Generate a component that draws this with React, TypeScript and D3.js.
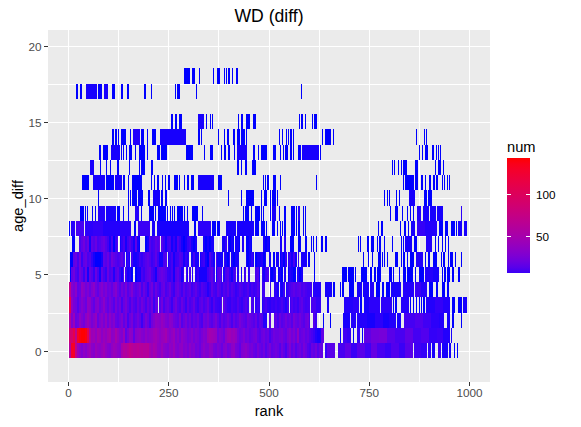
import React from "react";
import * as d3 from "d3";

type Run = [number, number, number?];

// Where tiles exist per age_diff row, as rank runs (optional num for the run).
const row0: Run[] = [[0,627,13],[627,635,3],[640,665,13],[672,690,9],[690,705,15],[705,720,6],[720,740,13],[740,755,7],[755,770,17],[770,790,9],[790,805,6],[805,825,11],[825,840,6],[840,860,13],[862,880,7],[880,894,5],[897,904,4],[907,914,2],[922,929,6],[932,947,2],[949,954,2],[962,964],[969,972]];
const row1: Run[] = [[0,637,15],[677,680],[685,695,7],[695,705,5],[710,712],[720,727,5],[732,735],[737,755,15],[755,775,21],[775,795,23],[795,815,13],[815,840,9],[840,860,15],[860,880,8],[880,900,11],[900,920,5],[920,935,6],[935,952,3],[954,957,2]];
const row2: Run[] = [[0,495,12],[500,505,3],[513,603,8],[610,620,2],[635,637],[652,655],[685,702,2],[705,717,3],[720,745,3],[745,765,2],[765,785,4],[785,800,2],[800,817,3],[820,830,2],[837,865,8],[865,885,11],[885,905,7],[905,925,4],[925,937,3],[944,952,2],[957,962],[979,982]];
const row3: Run[] = [[0,223,12],[226,383,5],[385,450,5],[455,463,3],[465,478,3],[483,500,6],[500,520,8],[520,535,5],[535,550,9],[553,575,7],[575,603,8],[605,618,9],[618,630,5],[645,650,2],[687,710,3],[710,725,4],[727,732],[737,750,2],[750,777,4],[780,807,4],[810,812],[815,820],[830,850,3],[852,855],[860,862],[867,870],[875,877],[879,882],[884,889],[892,915,3],[915,935,5],[935,952,3],[957,964],[972,982],[984,994,2]];
const row4: Run[] = [[1,478,6],[483,490,2],[503,505],[513,525,2],[528,540,2],[543,560,5],[560,575,8],[575,595,9],[595,608,7],[610,630,3],[640,657,2],[660,665],[677,680],[682,687],[700,712],[720,732,2],[735,750,2],[752,762,3],[767,777],[782,787],[792,802],[805,830,2],[835,862,3],[865,880,6],[880,894,3],[899,909],[917,922],[932,939],[944,949]];
const row5: Run[] = [[4,139,6],[141,161,5],[166,288,6],[293,294],[296,298],[301,306],[308,311],[316,340,3],[340,366,4],[368,383,2],[385,400,3],[400,418,2],[421,426],[431,433],[438,443],[448,453],[465,478,4],[483,500,2],[503,518,2],[523,535],[538,543],[548,568,3],[570,585,2],[612,615],[682,695],[697,712],[715,717],[730,745],[752,757],[762,767],[770,780],[800,807],[810,812],[825,827],[835,842],[845,860],[865,867],[875,887],[889,910,3],[910,924,2],[932,934],[937,942],[944,952],[957,962],[972,977]];
const row6: Run[] = [[4,141,6],[143,154,5],[156,246,5],[248,301,4],[306,326,2],[328,366,2],[368,385,2],[388,403,3],[406,426,2],[443,463,2],[465,493,2],[500,505],[510,515],[518,525],[528,545,3],[548,570,4],[573,575],[580,595,2],[598,603],[612,615],[735,737],[747,750],[757,760],[772,780],[782,785],[787,790],[795,797],[815,822],[830,832],[835,840],[845,847],[852,862],[867,884,3],[889,892],[897,902],[909,919],[929,932],[934,939],[947,949],[952,959],[964,967],[979,982]];
const row7: Run[] = [[9,16,2],[26,124,4],[129,179,3],[191,228,2],[231,320,2],[336,363,2],[383,396,2],[398,413],[416,428],[433,438],[443,458],[485,503,2],[528,533],[538,543],[553,563],[573,580],[590,595],[605,608],[610,612],[617,620],[630,635],[640,645],[722,725],[727,730],[745,750],[755,762],[770,772],[775,780],[787,790],[807,810],[830,832],[835,837],[840,857,2],[862,870],[892,907,3],[914,917],[922,924],[932,934],[939,942],[947,949]];
const row8: Run[] = [[1,4],[6,16,3],[19,39,8],[41,60,4],[60,85,5],[85,110,3],[110,129,3],[129,156,4],[163,169],[174,203,6],[208,216,2],[221,301,2],[312,318],[323,356,4],[358,368],[371,378],[393,418,2],[421,463,2],[465,475],[480,490],[493,495],[508,515],[520,523],[528,530],[533,535],[538,543],[555,565],[568,570],[573,578],[585,588],[590,593],[772,775],[780,785],[827,830],[837,842],[847,850],[855,865,2],[870,890,5],[890,919,3],[924,934],[939,947],[954,964],[967,969],[972,982,2],[987,994,2]];
const row9: Run[] = [[29,39],[41,44],[46,49],[59,61],[66,69],[74,91,3],[94,119,2],[121,129],[136,139],[149,151],[166,176,3],[181,184],[201,213],[216,218],[223,243],[246,248],[253,256],[258,261],[263,266],[271,286],[288,291],[296,298],[308,323],[333,336],[436,438],[441,451],[456,458],[465,478],[480,483],[485,488],[503,505],[508,518,2],[525,528],[538,543],[555,565],[568,570],[573,578,3],[585,588],[590,593],[802,805],[815,822],[832,835],[845,847],[852,855],[860,862],[870,879,3],[884,899,2],[902,917,2],[919,934,2],[979,982,4]];
const row10: Run[] = [[74,76],[149,151],[154,156],[159,171],[174,186],[198,203],[211,228,2],[231,236],[241,246],[398,401],[431,433],[443,463],[480,483],[488,495],[503,505],[508,518],[520,523],[787,790],[795,797],[800,802],[817,820],[825,827],[850,865,2],[887,894],[897,907]];
const row11: Run[] = [[34,51],[61,91,2],[94,114],[116,134,2],[136,141],[149,151],[159,184],[206,208],[213,216],[221,226],[233,236],[241,243],[248,253],[263,273],[276,278],[288,291],[296,301],[306,313],[323,363,2],[373,383],[485,488],[490,493],[495,500],[510,518],[528,530],[617,620],[835,837],[840,862],[865,872],[879,884],[889,892],[899,904],[909,914],[917,922],[932,934],[937,939],[944,947],[949,952]];
const row12: Run[] = [[54,64,2],[79,81],[94,96],[104,106],[121,126],[151,154],[176,179],[181,191],[206,211],[421,426],[431,433],[441,446],[458,468],[807,810],[812,815],[822,825],[830,832],[835,845],[865,872],[914,917],[922,929],[934,937]];
const row13: Run[] = [[76,81],[86,99],[106,129,2],[131,134],[136,139],[144,146],[151,159],[166,169],[176,191],[196,198],[221,228],[231,246],[293,311],[338,341],[353,361],[381,383],[388,393],[398,403],[413,416],[421,446,2],[460,465],[473,475],[480,495],[510,518],[528,530],[535,538],[540,548],[553,558],[560,563],[573,580],[583,625,2],[627,630],[875,877],[882,884],[889,897],[907,912],[917,919],[922,924],[927,929]];
const row14: Run[] = [[109,114],[116,121],[124,126],[131,144],[154,156],[161,179,3],[181,188],[196,198],[208,218],[228,293,2],[323,328],[331,333],[373,376],[388,391],[396,401],[411,416],[421,428],[431,441],[443,446],[525,528],[533,535],[543,545],[548,550],[553,558],[560,563],[632,635],[640,655],[660,662],[867,870],[887,889],[892,894]];
const row15: Run[] = [[256,261],[266,271],[276,283],[323,338,2],[343,346],[353,356],[358,361],[423,426],[431,436],[443,453],[460,468],[575,578],[580,585],[590,593],[608,610],[612,620]];
const row16: Run[] = [];
const row17: Run[] = [[19,24],[29,34],[44,72,2],[74,84],[89,99,2],[109,116],[131,136],[146,151],[188,193],[206,208],[266,268],[271,278],[318,321],[580,583]];
const row18: Run[] = [[288,303],[308,316],[326,328],[361,363],[371,378],[388,391],[393,396],[398,403],[408,411],[418,423]];
const ageRows: Run[][] = [row0,row1,row2,row3,row4,row5,row6,row7,row8,row9,row10,row11,row12,row13,row14,row15,row16,row17,row18];

// num read per 5-rank bin for the dense rows
const rankBin = 5;
const nums0 = [60,130,130,70,42,33,27,36,30,39,45,33,30,42,36,33,39,45,36,30,27,36,42,39,33,30,50,60,55,62,70,65,60,62,
  65,60,62,58,60,62,48,42,50,45,36,33,42,33,30,27,36,33,42,30,27,33,36,27,30,24,33,27,30,21,24,18,27,33,27,
  27,36,33,24,21,27,24,18,27,30,21,24,33,36,24,21,15,27,30,33,27,21,24,18,15,24,18,15,21,12,18,24,15,18,21,
  18,12,21,15,9,18,27,15,21,12,18,21,15,24,18,12,9,18,15,21,12,18,15,9,5];
const nums1 = [85,90,110,70,130,140,145,145,140,110,60,42,45,36,50,45,33,42,36,45,50,33,36,50,39,30,27,42,15,24,36,33,15,30,
  33,36,30,27,36,30,33,36,42,45,39,33,39,42,48,36,30,36,42,27,33,24,36,30,27,21,24,30,21,27,24,18,24,30,27,
  42,48,45,42,39,21,27,24,18,33,42,45,39,42,36,24,18,21,27,18,21,15,18,21,24,15,12,18,21,15,18,9,15,21,18,
  18,21,24,18,15,24,30,21,27,18,36,15,18,21,15,18,12,9,6,3,2,2];
const nums2 = [60,27,42,18,21,36,27,21,33,42,33,24,30,39,18,27,33,24,36,21,33,24,30,18,15,21,27,15,24,9,18,24,12,15,
  21,15,6,15,24,18,9,21,27,36,33,30,39,33,27,24,33,30,21,18,15,27,12,18,24,15,21,12,18,15,21,12,9,21,18,
  24,15,12,18,24,15,9,18,12,15,21,15,9,18,12,15,24,18,15,12,21,18,15,12,18,9,15,12,3,3,12,15,9,12,15,
  9,18,12,15,21,15,18,12,24,18,15,21,15,12,18,21,9,15,12,6,5];
const nums3 = [110,36,24,21,12,21,30,24,18,36,33,21,15,27,30,18,24,33,21,15,24,18,12,24,15,21,9,18,24,15,9,18,12,9,
  18,12,21,15,9,18,12,21,6,15,18,12,21,9,15,18,12,6,15,21,12,9,18,12,6,15,9,12,18,9,6,12,15,9,12,
  18,9,5,12,7,6,5,12,15,9,6,5,9,7,6,11,7,5,9,12,7,5,9,6,4,7,5,3,6,9,5,4,6,5,7,
  5,6,9,5,3,7,6,11,7,9,6,12,15,9,7];
const nums4 = [70,30,24,33,15,18,36,30,21,27,18,27,33,21,15,24,30,21,27,18,21,15,24,30,18,12,21,15,24,12,18,27,15,12,
  15,21,9,18,12,5,15,21,9,18,12,7,15,18,9,12,18,9,6,15,18,12,7,15,9,12,15,7,11,15,9,6,12,9,7,
  3,6,15,9,7,15,11,6,12,9,15,7,12,9,5,7,12,9,6,7,11,5,9,6,7,12,6,5,7,9,4,6,3,4,4,
  2,3,2,6,3,5,9,12,15,11,13,15,9,12,9,7];
const nums5 = [1,15,21,11,7,21,15,6,18,2,17,12,5,18,9,2,15,9,5,18,9,12,3,12,15,6,2,11,7,2,3,1,1,1,
  2,2,9,6,12,15,18,9,6,2,12,15,18,15,12,6,5,9,2,12,15,9,2,5,7,2,9,3,6,3,5,2,2,2,2,
  7,11,15,6,2,12,15,5,3,9,12,5,2,7,12,3,3,2,6,9,3,5,3,2,9,12,2,5,2,6,9,2,1,2,3,
  1,2,1,3,2,1,3,2,1,1,3,1,2,1,3];
const nums6 = [1,1,15,18,9,21,6,15,18,9,12,5,2,1,1,1,2,15,12,18,9,21,15,12,9,11,15,7,2,5,2,7,2,2,
  3,7,5,9,12,15,11,6,9,15,7,2,2,9,12,2,5,9,2,6,7,12,9,2,5,3,6,2,7,2,2,2,5,7,2,
  1,11,5,2,9,2,2,2,6,2,1,5,2,1,2,2,2,1,2,2,1,2,5,2,1,2,2,3,1,2,2,2,2,1,2,
  2,1,3,1,5,3,6,2,9,2,5,2,2];
const nums7 = [1,1,1,2,18,9,15,21,12,18,2,15,12,18,9,11,15,18,12,7,2,9,1,6,11,2,5,9,2,7,12,6,2,15,
  2,1,1,2,1,2,12,7,9,15,11,18,12,6,2,7,9,2,5,2,11,6,2,1,2,5,7,2,1,2,1,2,5,2,1,
  2,1,2,2,3,2,1,2,2,5,3,1,2,1,2,2,1,2,3,1,1,2,1,2,1,2,1,1,2,1,2,1,1,2,1,
  1,2,2,5,2,2,1];
const rowNums: number[][] = [nums0,nums1,nums2,nums3,nums4,nums5,nums6,nums7];

const xMajor = [0, 250, 500, 750, 1000];
const xMinor = [125, 375, 625, 875];
const yMajor = [0, 5, 10, 15, 20];
const yMinor = [2.5, 7.5, 12.5, 17.5];
const legendTicks = [50, 100];
const numMin = 1;
const numMax = 143;
const legendLow = 6;

const W = 581, H = 427;
const panel = { l: 48, r: 490, t: 30, b: 382 };
const FONT = "'Liberation Sans', Arial, sans-serif";

const x = d3.scaleLinear().domain([0, 1000]).range([68.5, 469.5]);
const y = d3.scaleLinear().domain([0, 20]).range([351.2, 46]);
const fill = d3.scaleLinear<string>().domain([numMin, numMax]).range(["#0000FF", "#FF0000"]).interpolate(d3.interpolateLab).clamp(true);
const legendY = d3.scaleLinear().domain([legendLow, numMax]).range([273, 158]);
const legendStops = d3.range(0, 21).map((i) => legendLow + ((numMax - legendLow) * i) / 20);

const px = (v: number) => Math.floor(v) + 0.5;

function stripes(run: Run, nums: number[] | undefined): Run[] {
  const [s, e, n] = run;
  if (!nums) return [run];
  const out: Run[] = [];
  let cur = s;
  while (cur < e) {
    const bin = Math.floor(cur / rankBin);
    const next = Math.min(e, (bin + 1) * rankBin);
    out.push([cur, next, nums[bin] ?? n]);
    cur = next;
  }
  return out;
}

export default function App() {
  return (
    <svg width={W} height={H} style={{ position: "absolute", left: 0, top: 0, background: "#fff" }} fontFamily={FONT}>
      <defs>
        <linearGradient id="numBar" x1="0" y1="1" x2="0" y2="0">
          {legendStops.map((v, i) => (
            <stop key={i} offset={i / 20} stopColor={fill(v)} />
          ))}
        </linearGradient>
      </defs>
      <rect x={panel.l} y={panel.t} width={panel.r - panel.l} height={panel.b - panel.t} fill="#EBEBEB" />
      <g shapeRendering="crispEdges" stroke="#fff" strokeWidth={1}>
        {[...xMinor, ...xMajor].map((v) => <line key={v} x1={px(x(v))} x2={px(x(v))} y1={panel.t} y2={panel.b} />)}
        {[...yMinor, ...yMajor].map((v) => <line key={v} y1={px(y(v))} y2={px(y(v))} x1={panel.l} x2={panel.r} />)}
      </g>

      <g shapeRendering="crispEdges">
        {ageRows.map((runs, age) => {
          const top = Math.floor(y(age + 0.5));
          const bot = Math.floor(y(age - 0.5));
          return runs.flatMap((run, i) =>
            stripes(run, rowNums[age]).map((st, j) => {
              const a = Math.round(x(st[0]));
              const b = Math.round(x(st[1]));
              if (b === a && j > 0) return null;
              return <rect key={age + "-" + i + "-" + j} x={a} y={top} width={Math.max(1, b - a)} height={bot - top} fill={fill(st[2] ?? 1)} />;
            })
          );
        })}
      </g>

      {xMajor.map((v) => (
        <g key={v}>
          <line x1={px(x(v))} x2={px(x(v))} y1={panel.b} y2={panel.b + 4} stroke="#333" strokeWidth={1} shapeRendering="crispEdges" />
          <text x={x(v)} y={panel.b + 14.5} textAnchor="middle" fontSize={11.73} fill="#4D4D4D">{v}</text>
        </g>
      ))}
      {yMajor.map((v) => (
        <g key={v}>
          <line x1={panel.l - 4} x2={panel.l} y1={px(y(v))} y2={px(y(v))} stroke="#333" strokeWidth={1} shapeRendering="crispEdges" />
          <text x={panel.l - 6.5} y={y(v) + 4.5} textAnchor="end" fontSize={11.73} fill="#4D4D4D">{v}</text>
        </g>
      ))}
      <text x={269} y={416} textAnchor="middle" fontSize={14.67} fill="#000">rank</text>
      <text transform={`translate(23,206) rotate(-90)`} textAnchor="middle" fontSize={14.67} fill="#000">age_diff</text>
      <text x={269} y={22} textAnchor="middle" fontSize={17.6} fill="#000">WD (diff)</text>

      <text x={507} y={152} fontSize={14.67} fill="#000">num</text>
      <rect x={507} y={158} width={23} height={115} fill="url(#numBar)" />
      {legendTicks.map((v) => (
        <g key={v} shapeRendering="crispEdges">
          <line x1={507} x2={511} y1={px(legendY(v))} y2={px(legendY(v))} stroke="#fff" strokeWidth={1} />
          <line x1={526} x2={530} y1={px(legendY(v))} y2={px(legendY(v))} stroke="#fff" strokeWidth={1} />
          <text x={536} y={legendY(v) + 4.5} fontSize={11.73} fill="#000">{v}</text>
        </g>
      ))}
    </svg>
  );
}
